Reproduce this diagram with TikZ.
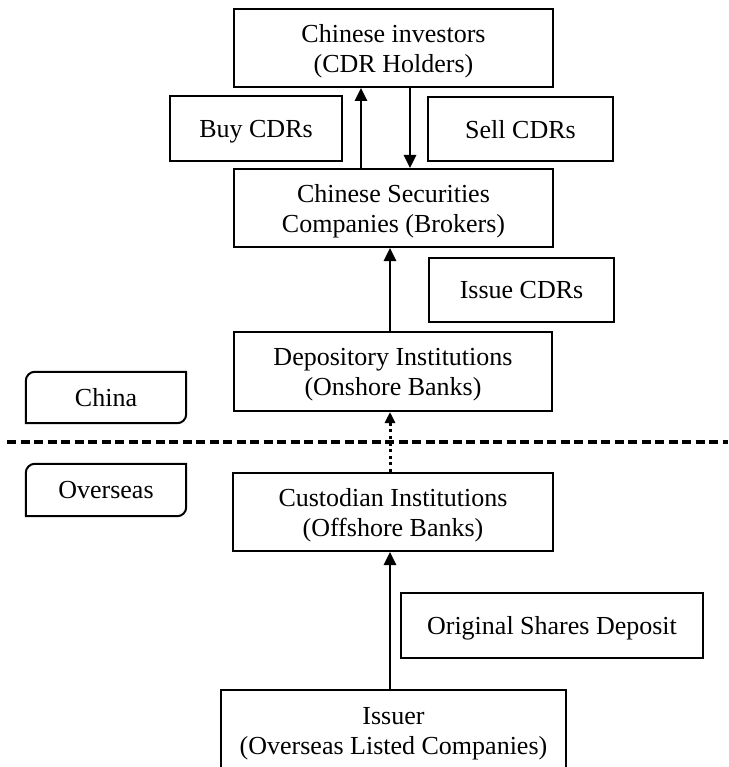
\documentclass[tikz,border=0pt]{standalone}
\usepackage{fontspec}
\setmainfont{Liberation Serif}
\usepackage{tikz}
\usetikzlibrary{arrows.meta, positioning, calc}

\begin{document}
\begin{tikzpicture}[x=1pt, y=-1pt,
			box/.style={draw, line width=2pt, align=center, inner sep=0pt, text depth=0pt, font=\fontsize{26}{30}\selectfont},
			tag/.style={align=center, inner sep=0pt, text depth=0pt, font=\fontsize{26}{30}\selectfont},
			flow/.style={line width=2.8pt, -{Triangle[length=13pt, width=12pt]}},
			dotflow/.style={line width=3pt, dash pattern=on 3pt off 3.6pt, -{Triangle[length=11pt, width=10pt]}}]
			\useasboundingbox (0,0) rectangle (728,767);
			
			\node[box, minimum width=319pt, minimum height=78pt] at (393.5,48) (investors){Chinese investors\\(CDR Holders)};
			\node[box, minimum width=172pt, minimum height=65pt] at (256,128.5) (buy){Buy CDRs};
			\node[box, minimum width=185pt, minimum height=64pt] at (520.5,129) (sell){Sell CDRs};
			\node[box, minimum width=319pt, minimum height=78pt] at (393.5,208) (brokers){Chinese Securities\\Companies (Brokers)};
			\node[box, minimum width=185pt, minimum height=64pt] at (521.5,290) (issue){Issue CDRs};
			\node[box, minimum width=318pt, minimum height=79pt] at (393,371.5) (depository){Depository Institutions\\(Onshore Banks)};
			\node[box, minimum width=320pt, minimum height=78pt] at (393,512) (custodian){Custodian Institutions\\(Offshore Banks)};
			\node[box, minimum width=302pt, minimum height=65pt] at (552,625.5) (original){Original Shares Deposit};
			\node[box, minimum width=345pt, minimum height=82pt] at (393.5,731) (issuer){Issuer\\(Overseas Listed Companies)};
			
			\node[tag, minimum width=160pt, minimum height=51pt] at (106,397.5) (china){China};
			\node[tag, minimum width=160pt, minimum height=52pt] at (106,490) (overseas){Overseas};
			\foreach \r in {china, overseas}
				\draw[line width=2pt] (\r.south west) -- ([yshift=-9pt]\r.north west) arc[start angle=180, end angle=90, radius=9pt] -- (\r.north east) -- ([yshift=9pt]\r.south east) arc[start angle=0, end angle=-90, radius=9pt] -- cycle;
			
			\draw[line width=3.8pt, dash pattern=on 9pt off 4.5pt] (7,442) to (728,442);
			
			\draw[flow] ([xshift=-32.5pt]brokers.north) to ([xshift=-32.5pt]investors.south);
			\draw[flow] ([xshift=16.5pt]investors.south) to ([xshift=16.5pt]brokers.north);
			\draw[flow] ([xshift=-3pt]depository.north) to ([xshift=-3.5pt]brokers.south);
			\draw[dotflow] ([xshift=-3pt]custodian.north) to ([xshift=-3pt]depository.south);
			\draw[flow] ([xshift=-3.5pt]issuer.north) to ([xshift=-3pt]custodian.south);
\end{tikzpicture}
\end{document}
